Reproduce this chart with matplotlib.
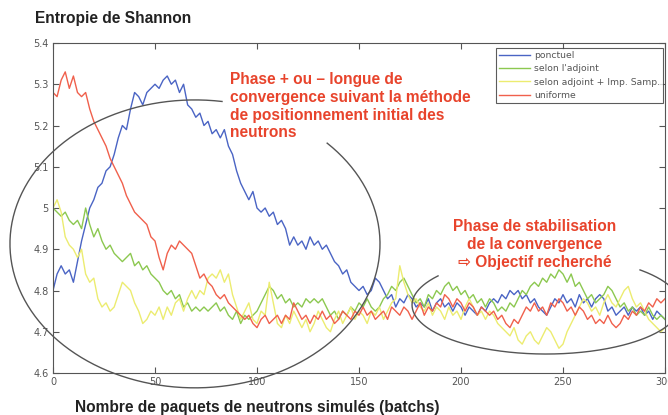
import numpy as np
import matplotlib
matplotlib.use("Agg")
import matplotlib.pyplot as plt

# Batch index (every second batch) and Shannon entropy per source initialisation
batches = list(range(0, 301, 2))

ponctuel = [
    4.80, 4.84, 4.86, 4.84, 4.85, 4.82, 4.87, 4.92, 4.96, 5.00,
    5.02, 5.05, 5.06, 5.09, 5.10, 5.13, 5.17, 5.20, 5.19, 5.24,
    5.28, 5.27, 5.25, 5.28, 5.29, 5.30, 5.29, 5.31, 5.32, 5.30,
    5.31, 5.28, 5.30, 5.25, 5.24, 5.22, 5.23, 5.20, 5.21, 5.18,
    5.19, 5.17, 5.19, 5.15, 5.13, 5.09, 5.06, 5.04, 5.02, 5.04,
    5.00, 4.99, 5.00, 4.98, 4.99, 4.96, 4.97, 4.95, 4.91, 4.93,
    4.91, 4.92, 4.90, 4.93, 4.91, 4.92, 4.90, 4.91, 4.89, 4.87,
    4.86, 4.84, 4.85, 4.82, 4.81, 4.80, 4.81, 4.79, 4.80, 4.83,
    4.82, 4.80, 4.78, 4.79, 4.76, 4.78, 4.77, 4.79, 4.78, 4.76,
    4.77, 4.76, 4.78, 4.75, 4.77, 4.78, 4.76, 4.77, 4.75, 4.77,
    4.76, 4.74, 4.76, 4.75, 4.74, 4.76, 4.75, 4.77, 4.78, 4.77,
    4.79, 4.78, 4.80, 4.79, 4.80, 4.78, 4.79, 4.77, 4.78, 4.76,
    4.75, 4.74, 4.76, 4.78, 4.77, 4.79, 4.77, 4.78, 4.76, 4.79,
    4.77, 4.78, 4.76, 4.78, 4.79, 4.78, 4.75, 4.76, 4.74, 4.75,
    4.76, 4.74, 4.76, 4.75, 4.76, 4.74, 4.75, 4.73, 4.75, 4.74,
    4.73,
]

adjoint = [
    5.00, 4.99, 4.98, 4.99, 4.97, 4.96, 4.97, 4.95, 5.00, 4.96,
    4.93, 4.95, 4.92, 4.90, 4.91, 4.89, 4.88, 4.87, 4.88, 4.89,
    4.86, 4.87, 4.85, 4.86, 4.84, 4.83, 4.82, 4.80, 4.79, 4.80,
    4.78, 4.79, 4.76, 4.77, 4.75, 4.76, 4.75, 4.76, 4.75, 4.76,
    4.77, 4.75, 4.76, 4.74, 4.73, 4.75, 4.72, 4.74, 4.73, 4.74,
    4.75, 4.77, 4.79, 4.81, 4.80, 4.78, 4.79, 4.77, 4.78, 4.76,
    4.77, 4.76, 4.78, 4.77, 4.78, 4.77, 4.78, 4.76, 4.74, 4.75,
    4.73, 4.75, 4.74, 4.76, 4.75, 4.77, 4.76, 4.78, 4.76, 4.75,
    4.76, 4.78, 4.79, 4.81, 4.80, 4.82, 4.83, 4.81, 4.79, 4.77,
    4.78, 4.76, 4.79, 4.78, 4.80, 4.79, 4.81, 4.82, 4.80, 4.81,
    4.79, 4.80, 4.78, 4.79, 4.77, 4.78, 4.76, 4.78, 4.77, 4.75,
    4.76, 4.75, 4.77, 4.76, 4.78, 4.80, 4.79, 4.81, 4.82, 4.81,
    4.83, 4.82, 4.84, 4.83, 4.85, 4.84, 4.82, 4.84, 4.81, 4.82,
    4.80, 4.78, 4.79, 4.77, 4.78, 4.79, 4.81, 4.80, 4.78, 4.76,
    4.77, 4.75, 4.76, 4.74, 4.75, 4.74, 4.76, 4.74, 4.73, 4.74,
    4.73,
]

adjoint_imp = [
    5.00, 5.02, 4.99, 4.93, 4.91, 4.90, 4.88, 4.90, 4.84, 4.82,
    4.83, 4.78, 4.76, 4.77, 4.75, 4.76, 4.79, 4.82, 4.81, 4.80,
    4.77, 4.75, 4.72, 4.73, 4.75, 4.74, 4.76, 4.73, 4.76, 4.74,
    4.77, 4.78, 4.75, 4.78, 4.80, 4.78, 4.80, 4.79, 4.83, 4.84,
    4.83, 4.85, 4.82, 4.84, 4.79, 4.76, 4.73, 4.75, 4.77, 4.73,
    4.72, 4.75, 4.74, 4.82, 4.77, 4.72, 4.71, 4.74, 4.72, 4.75,
    4.73, 4.71, 4.73, 4.70, 4.72, 4.75, 4.73, 4.71, 4.70, 4.73,
    4.75, 4.72, 4.74, 4.76, 4.73, 4.75, 4.74, 4.72, 4.75, 4.74,
    4.76, 4.73, 4.75, 4.77, 4.78, 4.86, 4.82, 4.79, 4.77, 4.78,
    4.76, 4.75, 4.77, 4.74, 4.76, 4.75, 4.73, 4.76, 4.74, 4.75,
    4.73, 4.76, 4.78, 4.76, 4.74, 4.75, 4.73, 4.75, 4.74, 4.72,
    4.71, 4.70, 4.69, 4.71, 4.68, 4.67, 4.69, 4.70, 4.68, 4.67,
    4.69, 4.71, 4.70, 4.68, 4.66, 4.67, 4.70, 4.72, 4.74, 4.76,
    4.78, 4.77, 4.75, 4.76, 4.74, 4.77, 4.79, 4.77, 4.76, 4.78,
    4.80, 4.81, 4.78, 4.76, 4.77, 4.75, 4.73, 4.72, 4.71, 4.70,
    4.71,
]

uniforme = [
    5.28, 5.27, 5.31, 5.33, 5.29, 5.32, 5.28, 5.27, 5.28, 5.24,
    5.21, 5.19, 5.17, 5.15, 5.12, 5.10, 5.08, 5.06, 5.03, 5.01,
    4.99, 4.98, 4.97, 4.96, 4.93, 4.92, 4.88, 4.85, 4.89, 4.91,
    4.90, 4.92, 4.91, 4.90, 4.89, 4.86, 4.83, 4.84, 4.82, 4.81,
    4.79, 4.78, 4.79, 4.77, 4.76, 4.75, 4.74, 4.73, 4.74, 4.72,
    4.71, 4.73, 4.74, 4.72, 4.73, 4.74, 4.72, 4.74, 4.73, 4.77,
    4.75, 4.73, 4.74, 4.72, 4.74, 4.73, 4.75, 4.73, 4.74, 4.72,
    4.73, 4.75, 4.74, 4.73, 4.75, 4.74, 4.76, 4.74, 4.75, 4.73,
    4.74, 4.75, 4.73, 4.76, 4.75, 4.74, 4.76, 4.75, 4.73, 4.75,
    4.77, 4.74, 4.76, 4.75, 4.77, 4.76, 4.79, 4.78, 4.76, 4.78,
    4.77, 4.75, 4.77, 4.76, 4.74, 4.76, 4.75, 4.74, 4.75, 4.73,
    4.74, 4.72, 4.71, 4.73, 4.72, 4.74, 4.76, 4.75, 4.77, 4.75,
    4.76, 4.74, 4.77, 4.76, 4.78, 4.77, 4.75, 4.76, 4.74, 4.76,
    4.75, 4.73, 4.74, 4.72, 4.73, 4.72, 4.74, 4.72, 4.71, 4.72,
    4.74, 4.73, 4.75, 4.74, 4.76, 4.75, 4.77, 4.76, 4.78, 4.77,
    4.78,
]

series_labels = ["ponctuel", "selon l'adjoint", "selon adjoint + Imp. Samp.", "uniforme"]
series_colors = ["#4a64c4", "#8cc850", "#ecec70", "#f0604c"]

x_ticks = [0, 50, 100, 150, 200, 250, 300]
y_ticks = [4.6, 4.7, 4.8, 4.9, 5.0, 5.1, 5.2, 5.3, 5.4]
y_tick_labels = ["4.6", "4.7", "4.8", "4.9", "5", "5.1", "5.2", "5.3", "5.4"]

W, H = 668, 415
fig = plt.figure(figsize=(W / 100, H / 100), dpi=100)
ax = fig.add_axes([53 / W, 1 - 373 / H, (665 - 53) / W, (373 - 43) / H])

for vals, lab, col in zip([ponctuel, adjoint, adjoint_imp, uniforme], series_labels, series_colors):
    ax.plot(batches, vals, color=col, lw=1.0, label=lab)

ax.set_xlim(0, 300)
ax.set_ylim(4.6, 5.4)
ax.set_xticks(x_ticks)
ax.set_yticks(y_ticks)
ax.set_yticklabels(y_tick_labels)
ax.tick_params(direction="in", top=True, right=True, length=4, width=0.8,
               labelsize=7, labelcolor="#555555", color="#555555", pad=3)
for s in ax.spines.values():
    s.set_color("#555555")
    s.set_linewidth(0.8)

leg = ax.legend(loc="upper right", bbox_to_anchor=(0.997, 0.985), fontsize=6.7,
                frameon=True, fancybox=False, edgecolor="#333333",
                handlelength=3.3, handletextpad=0.4, borderpad=0.35,
                labelspacing=0.45, borderaxespad=0.0)
leg.get_frame().set_linewidth(0.8)
for t in leg.get_texts():
    t.set_color("#555555")

# Outline of the transient phase (open where the caption sits)
ell_kw = dict(color="#555555", lw=1.0, clip_on=False)
t = np.radians(np.linspace(81.6, 404.4, 400))
ax.plot(69.6 + 90.7 * np.cos(t), 4.913 + 0.349 * np.sin(t), **ell_kw)

# Outline of the stabilised phase
t = np.radians(np.linspace(143.7, 405.5, 400))
ax.plot(241.7 + 65.7 * np.cos(t), 4.765 + 0.119 * np.sin(t), **ell_kw)

red = "#e8442c"
fam = ["Liberation Sans", "DejaVu Sans"]
fig.text(230 / W, 1 - 72 / H,
         "Phase + ou \u2013 longue de\nconvergence suivant la méthode\nde positionnement initial des\nneutrons",
         ha="left", va="top", color=red, fontsize=11.2, fontweight="bold",
         family=fam, linespacing=1.23)
fig.text(535 / W, 1 - 219 / H,
         "Phase de stabilisation\nde la convergence\n\u21e8 Objectif recherché",
         ha="center", va="top", color=red, fontsize=11.2, fontweight="bold",
         family=fam, linespacing=1.23)

fig.text(35 / W, 1 - 18 / H, "Entropie de Shannon", ha="left", va="center",
         fontsize=11.2, fontweight="bold", color="#222222", family=fam)
fig.text(75 / W, 1 - 407 / H, "Nombre de paquets de neutrons simulés (batchs)",
         ha="left", va="center", fontsize=11.2, fontweight="bold", color="#222222", family=fam)

fig.savefig("out.png", dpi=100)
